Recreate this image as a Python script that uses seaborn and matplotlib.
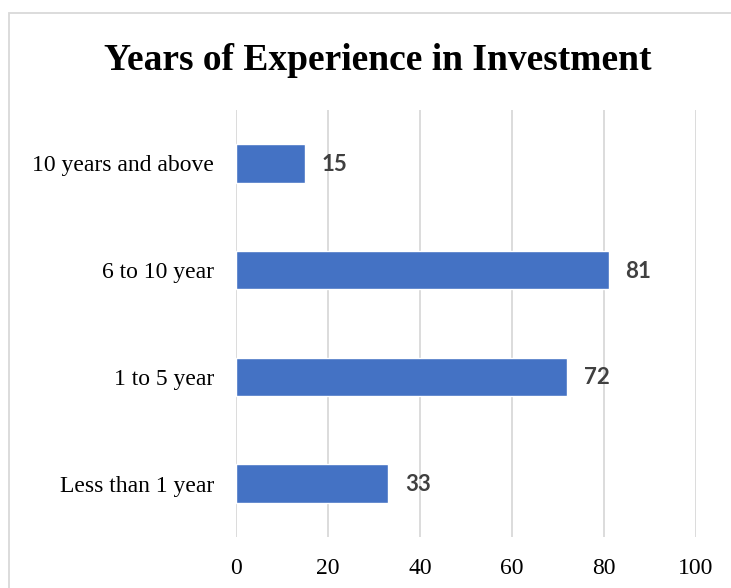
import matplotlib
matplotlib.use("Agg")
import matplotlib.pyplot as plt
import seaborn as sns
import pandas as pd
from matplotlib.patches import Rectangle

categories = ["10 years and above", "6 to 10 year", "1 to 5 year", "Less than 1 year"]
values = [15, 81, 72, 33]
xticks = [0, 20, 40, 60, 80, 100]
title = "Years of Experience in Investment"

df = pd.DataFrame({"cat": categories, "val": values})

sns.set_theme(style="white")
plt.rcParams["font.family"] = ["Liberation Serif", "DejaVu Serif"]

fig = plt.figure(figsize=(7.31, 5.88), dpi=100)
ax = fig.add_axes([236/731, 1-537/588, (696-236)/731, (537-110)/588])

sns.barplot(data=df, y="cat", x="val", orient="h", color="#4472C4",
            width=0.36, ax=ax, saturation=1)

ax.set_xlim(0, 100)
ax.set_ylim(3.5, -0.5)
ax.set_xticks(xticks)
ax.set_xticklabels([str(t) for t in xticks], fontsize=17, color="#000000")
ax.tick_params(axis="y", labelsize=17, length=0, pad=16)
ax.tick_params(axis="x", length=0, pad=15)
for lab in ax.get_yticklabels():
    lab.set_color("#000000")
ax.set_xlabel("")
ax.set_ylabel("")
ax.grid(axis="x", color="#D9D9D9", linewidth=1.3)
ax.set_axisbelow(True)
for s in ax.spines.values():
    s.set_visible(False)

for i, v in enumerate(values):
    ax.annotate(str(v), (v, i), xytext=(17, -1), textcoords="offset pixels",
                va="center", ha="left", fontsize=16, fontweight="bold",
                color="#404040", family=["Lato", "DejaVu Sans"])

fig.text(378/731, 1-60/588, title, ha="center", va="center",
         fontsize=27, fontweight="bold", color="#000000")

fig.patches.append(Rectangle((9/731, -0.1), 1.2, 1 - 13/588 + 0.1,
                             transform=fig.transFigure, fill=False,
                             edgecolor="#D9D9D9", linewidth=1.3))

fig.savefig("out.png", dpi=100, facecolor="white")
